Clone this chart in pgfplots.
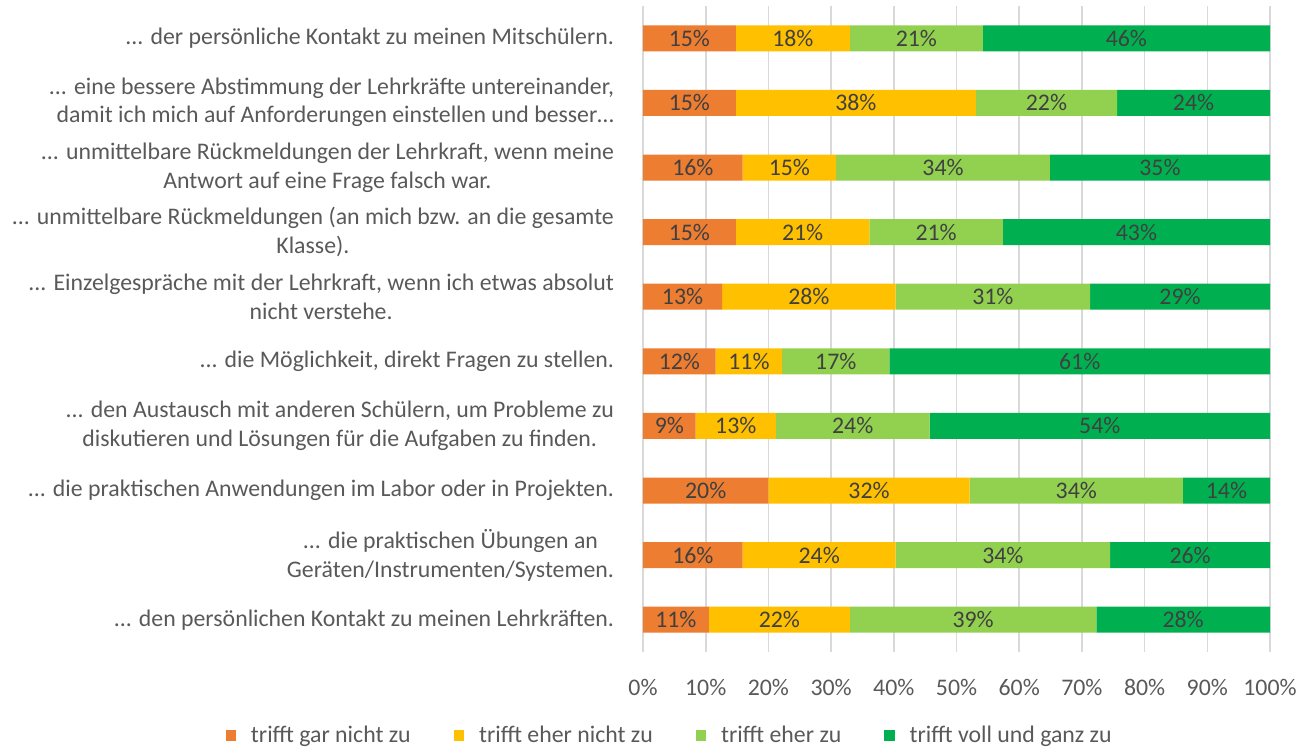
\documentclass[border=0pt]{standalone}
\usepackage{pgfplots}
\usepackage{pgfplotstable}
\pgfplotsset{compat=1.18}
\usepackage{fontspec}
\setmainfont{Carlito}
\definecolor{cA}{HTML}{ED7D31}
\definecolor{cB}{HTML}{FFC000}
\definecolor{cC}{HTML}{92D050}
\definecolor{cD}{HTML}{00B050}
\definecolor{txt}{HTML}{595959}
\definecolor{lab}{HTML}{404040}
\definecolor{grd}{HTML}{D9D9D9}

\pgfplotstableread{
y  a    b    c    d    la lb lc ld
1  14.8 18.2 21.2 45.8 15 18 21 46
2  14.8 38.3 22.5 24.4 15 38 22 24
3  15.9 14.9 34.1 35.1 16 15 34 35
4  14.8 21.3 21.3 42.6 15 21 21 43
5  12.6 27.7 31.0 28.7 13 28 31 29
6  11.6 10.6 17.1 60.7 12 11 17 61
7  8.4  12.8 24.5 54.3 9  13 24 54
8  20.0 32.1 34.0 13.9 20 32 34 14
9  15.9 24.4 34.2 25.5 16 24 34 26
10 10.5 22.5 39.3 27.7 11 22 39 28
}\data
\pgfplotstablecreatecol[expr={\thisrow{a}/2}]{ma}\data
\pgfplotstablecreatecol[expr={\thisrow{a}+\thisrow{b}/2}]{mb}\data
\pgfplotstablecreatecol[expr={\thisrow{a}+\thisrow{b}+\thisrow{c}/2}]{mc}\data
\pgfplotstablecreatecol[expr={\thisrow{a}+\thisrow{b}+\thisrow{c}+\thisrow{d}/2}]{md}\data

\newcommand{\fs}{\fontsize{11.9pt}{14.3pt}\selectfont}
\newcommand{\dd}{.\kern0pt.\kern0pt.}

\pgfplotsset{
  geom/.style={
    at={(321.5pt,48.5pt)}, anchor=south west,
    scale only axis, width=313.5pt, height=323pt,
    xmin=0, xmax=100, ymin=0.5, ymax=10.5, y dir=reverse,
  }
}

\begin{document}
\begin{tikzpicture}
\useasboundingbox (0,0) rectangle (655.5pt,374.5pt);
\begin{axis}[
  geom,
  xbar stacked, bar width=13pt,
  axis line style={draw=none},
  major tick length=0pt,
  xtick={0,10,20,30,40,50,60,70,80,90,100},
  xticklabels={0\%,10\%,20\%,30\%,40\%,50\%,60\%,70\%,80\%,90\%,100\%},
  xmajorgrids, grid style={grd, line width=0.8pt},
  ytick={1,2,3,4,5,6,7,8,9,10},
  yticklabels={
    {\dd{} der persönliche Kontakt zu meinen Mitschülern.},
    {\begin{tabular}{@{}r@{}}\dd{} eine bessere Abstimmung der Lehrkräfte untereinander,\\damit ich mich auf Anforderungen einstellen und besser…\end{tabular}},
    {\dd{} unmittelbare Rückmeldungen der Lehrkraft, wenn meine\\Antwort auf eine Frage falsch war.},
    {\dd{} unmittelbare Rückmeldungen (an mich bzw. an die gesamte\\Klasse).},
    {\dd{} Einzelgespräche mit der Lehrkraft, wenn ich etwas absolut\\nicht verstehe.},
    {\dd{} die Möglichkeit, direkt Fragen zu stellen.},
    {\dd{} den Austausch mit anderen Schülern, um Probleme zu\\diskutieren und Lösungen für die Aufgaben zu finden.},
    {\dd{} die praktischen Anwendungen im Labor oder in Projekten.},
    {\dd{} die praktischen Übungen an\\Geräten/Instrumenten/Systemen.},
    {\dd{} den persönlichen Kontakt zu meinen Lehrkräften.}
  },
  yticklabel style={align=center, font=\fs, text=txt, xshift=-11pt},
  xticklabel style={font=\fs, text=txt, yshift=-10pt},
  legend columns=4,
  legend style={at={(0.044,-0.13)}, anchor=center, draw=none, fill=none,
    font=\fs, text=txt,
    /tikz/every odd column/.append style={column sep=5.5pt},
    /tikz/every even column/.append style={column sep=19.5pt}},
  legend image code/.code={\fill[#1] (0pt,-2.3pt) rectangle (5.2pt,2.9pt);},
]
\addplot[fill=cA, draw=none] table[x=a, y=y]{\data};
\addlegendentry{trifft gar nicht zu}
\addplot[fill=cB, draw=none] table[x=b, y=y]{\data};
\addlegendentry{trifft eher nicht zu}
\addplot[fill=cC, draw=none] table[x=c, y=y]{\data};
\addlegendentry{trifft eher zu}
\addplot[fill=cD, draw=none] table[x=d, y=y]{\data};
\addlegendentry{trifft voll und ganz zu}
\end{axis}
\begin{axis}[
  geom, hide axis,
  nodes near coords={\pgfplotspointmeta\%},
  point meta=explicit symbolic,
  every node near coord/.append style={anchor=center, font=\fs, text=lab},
]
\addplot[draw=none, mark=none] table[x=ma, y=y, meta=la]{\data};
\addplot[draw=none, mark=none] table[x=mb, y=y, meta=lb]{\data};
\addplot[draw=none, mark=none] table[x=mc, y=y, meta=lc]{\data};
\addplot[draw=none, mark=none] table[x=md, y=y, meta=ld]{\data};
\end{axis}
\end{tikzpicture}
\end{document}
